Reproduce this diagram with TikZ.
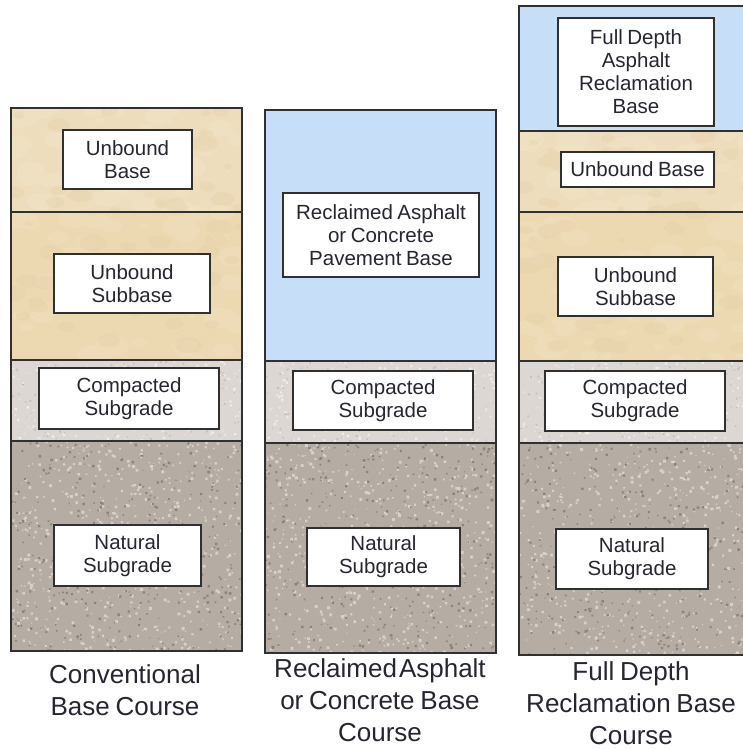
\documentclass[tikz,border=0pt]{standalone}
\usepackage{fontspec}
\setmainfont{Liberation Sans}
\newfontfamily\boxfont{Liberation Sans}[WordSpace=0.55]
\newfontfamily\capfont{Liberation Sans}[WordSpace=0.8]
\definecolor{edge}{HTML}{303030}
\definecolor{txt}{HTML}{262630}
\definecolor{beigeA}{HTML}{EEDDBC}
\definecolor{beigeB}{HTML}{ECD9B2}
\definecolor{beigeL}{HTML}{F6EBD4}
\definecolor{beigeD}{HTML}{DFC89C}
\definecolor{compC}{HTML}{DCD7D3}
\definecolor{compL}{HTML}{EEEBE8}
\definecolor{compD}{HTML}{C6C0BB}
\definecolor{natC}{HTML}{B5ACA4}
\definecolor{natL}{HTML}{D6D0CA}
\definecolor{natD}{HTML}{8C837C}
\definecolor{blueC}{HTML}{C6DEF7}
\newcommand\mkspeck[7]{%
  \fill[#6] \foreach \k in {1,...,#5}{%
    [/utils/exec={\pgfmathsetmacro\px{#1+rnd*(#3-#1)}%
    \pgfmathsetmacro\py{#2+rnd*(#4-#2)}%
    \pgfmathsetmacro\pr{1+rnd*#7}}]
    (\px,\py) rectangle ++(\pr,\pr)
  };}
\newcommand\mkblot[7]{%
  \fill[#6,opacity=0.22] \foreach \k in {1,...,#5}{%
    [/utils/exec={\pgfmathsetmacro\px{#1+rnd*(#3-#1)}%
    \pgfmathsetmacro\py{#2+rnd*(#4-#2)}%
    \pgfmathsetmacro\pr{4+rnd*#7}}]
    (\px,\py) ellipse (\pr pt and 0.6*\pr pt)
  };}
\newcommand\beigelayer[5]{%
  \fill[#5] (#1,#2) rectangle (#3,#4);
  \mkblot{#1}{#2}{#3}{#4}{45}{beigeL}{14}
  \mkblot{#1}{#2}{#3}{#4}{30}{beigeD}{10}}
\newcommand\complayer[4]{%
  \fill[compC] (#1,#2) rectangle (#3,#4);
  \mkspeck{#1}{#2}{#3}{#4}{220}{compL}{1.5}
  \mkspeck{#1}{#2}{#3}{#4}{120}{compD}{1}}
\newcommand\natlayer[4]{%
  \fill[natC] (#1,#2) rectangle (#3,#4);
  \mkspeck{#1}{#2}{#3}{#4}{600}{natL}{2}
  \mkspeck{#1}{#2}{#3}{#4}{350}{natD}{1.5}}
\begin{document}
\begin{tikzpicture}[x=1pt,y=-1pt,
  layer/.style={draw=edge,line width=1.3pt},
  lbl/.style={draw=edge,fill=white,line width=1.3pt,inner sep=0pt,align=center,
    text=txt,font=\boxfont\fontsize{20.5}{23}\selectfont},
  captext/.style={align=center,anchor=north,inner sep=0pt,text=txt,
    font=\capfont\fontsize{26}{32}\selectfont}]
\pgfmathsetseed{4242}
\useasboundingbox (0,0) rectangle (743,749);
\fill[white] (0,0) rectangle (743,749);
\begin{scope}
\clip (0,0) rectangle (743,749);
% ---------- column 1
\begin{scope}
\clip (11,108) rectangle (242,651);
\beigelayer{11}{108}{242}{212}{beigeA}
\beigelayer{11}{212}{242}{360}{beigeB}
\complayer{11}{360}{242}{441}
\natlayer{11}{441}{242}{651}
\end{scope}
\draw[layer] (11,108) rectangle (242,651);
\draw[layer] (11,212) -- (242,212);
\draw[layer] (11,360) -- (242,360);
\draw[layer] (11,441) -- (242,441);
% ---------- column 2
\begin{scope}
\clip (265,110) rectangle (496,653);
\fill[blueC] (265,110) rectangle (496,361);
\complayer{265}{361}{496}{443}
\natlayer{265}{443}{496}{653}
\end{scope}
\draw[layer] (265,110) rectangle (496,653);
\draw[layer] (265,361) -- (496,361);
\draw[layer] (265,443) -- (496,443);
% ---------- column 3
\begin{scope}
\clip (519,6) rectangle (760,655);
\fill[blueC] (519,6) rectangle (760,131);
\beigelayer{519}{131}{760}{212}{beigeA}
\beigelayer{519}{212}{760}{361}{beigeB}
\complayer{519}{361}{760}{443}
\natlayer{519}{443}{760}{655}
\end{scope}
\draw[layer] (519,6) rectangle (760,655);
\draw[layer] (519,131) -- (760,131);
\draw[layer] (519,212) -- (760,212);
\draw[layer] (519,361) -- (760,361);
\draw[layer] (519,443) -- (760,443);
\end{scope}
% ---------- labels column 1
\node[lbl,minimum width=129pt,minimum height=59pt] (aub) at (127.5,159.5) {Unbound\\Base};
\node[lbl,minimum width=156pt,minimum height=59pt] (aus) at (132,283.5) {Unbound\\Subbase};
\node[lbl,minimum width=180pt,minimum height=61pt] (acs) at (129,398.5) {Compacted\\Subgrade};
\node[lbl,minimum width=147pt,minimum height=61pt] (ans) at (127.5,555.5) {Natural\\Subgrade};
% ---------- labels column 2
\node[lbl,minimum width=196pt,minimum height=84pt] (bra) at (381,235) {Reclaimed Asphalt\\or Concrete\\Pavement Base};
\node[lbl,minimum width=180pt,minimum height=59pt] (bcs) at (383,400.5) {Compacted\\Subgrade};
\node[lbl,minimum width=153pt,minimum height=58pt] (bns) at (383.5,557) {Natural\\Subgrade};
% ---------- labels column 3
\node[lbl,minimum width=156pt,minimum height=108pt] (cfd) at (636,72) {Full Depth\\Asphalt\\Reclamation\\Base};
\node[lbl,minimum width=153pt,minimum height=35pt] (cub) at (637.5,169.5) {Unbound Base};
\node[lbl,minimum width=155pt,minimum height=59pt] (cus) at (635.5,286.5) {Unbound\\Subbase};
\node[lbl,minimum width=180pt,minimum height=60pt] (ccs) at (635,401) {Compacted\\Subgrade};
\node[lbl,minimum width=152pt,minimum height=60pt] (cns) at (632,559) {Natural\\Subgrade};
% ---------- captions
\node[captext] (acap) at (125,664) {Conventional\\Base Course};
\node[captext] (bcap) at (380,658) {Reclaimed\hspace{2pt}Asphalt\\or Concrete Base\\Course};
\node[captext] (ccap) at (631,661) {Full Depth\\Reclamation Base\\Course};
\end{tikzpicture}
\end{document}
